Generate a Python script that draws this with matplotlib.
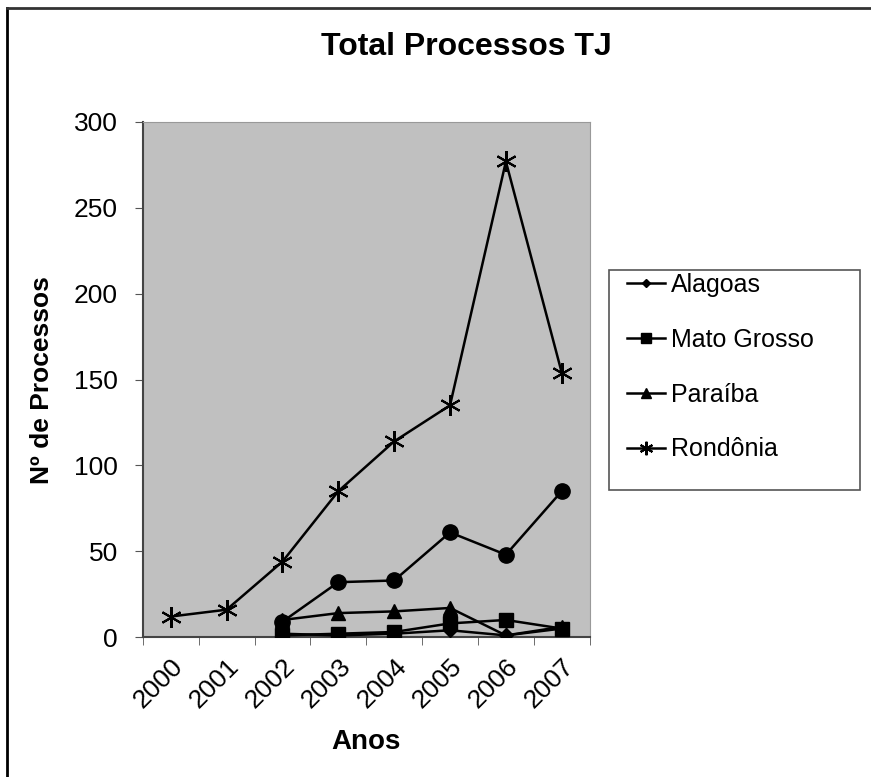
import matplotlib.pyplot as plt
import numpy as np

plt.rcParams['font.family'] = ['Liberation Sans', 'DejaVu Sans']

anos = ['2000', '2001', '2002', '2003', '2004', '2005', '2006', '2007']
alagoas = [None, None, 2, 1, 2, 4, 1, 5]
mato_grosso = [None, None, 1, 2, 3, 8, 10, 5]
paraiba = [None, None, 10, 14, 15, 17, 1, 6]
rondonia = [12, 16, 44, 85, 114, 135, 277, 154]
outro = [None, None, 9, 32, 33, 61, 48, 85]  # series without legend entry


def to_arr(vals):
    return np.array([np.nan if v is None else v for v in vals], dtype=float)


W, H = 871, 777
fig = plt.figure(figsize=(W / 100, H / 100), dpi=100)
ax = fig.add_axes([0.164, 0.180, 0.513, 0.663])
ax.set_facecolor('#c0c0c0')

x = np.arange(len(anos))
lw = 1.8
ax.plot(x, to_arr(outro), color='black', lw=lw, marker='o', ms=11, zorder=3)
ax.plot(x, to_arr(paraiba), color='black', lw=lw, marker='^', ms=10, label='Paraíba', zorder=4)
ax.plot(x, to_arr(alagoas), color='black', lw=lw, marker='D', ms=7, label='Alagoas', zorder=5)
ax.plot(x, to_arr(mato_grosso), color='black', lw=lw, marker='s', ms=10, label='Mato Grosso', zorder=6)
ax.plot(x, to_arr(rondonia), color='black', lw=lw, marker=(6, 2, 0), ms=15, mew=1.5,
        label='Rondônia', zorder=7)

ax.set_xlim(-0.5, len(anos) - 0.5)
ax.set_ylim(0, 300)
ax.set_yticks(np.arange(0, 301, 50))
ax.tick_params(axis='y', labelsize=19, length=6, direction='out', color='#555555', pad=12)
ax.set_xticks(x)
ax.set_xticklabels(anos, rotation=45, ha='right', rotation_mode='anchor', fontsize=19)
ax.tick_params(axis='x', which='major', length=0, pad=12)
ax.set_xticks(np.arange(-0.5, len(anos)), minor=True)
ax.tick_params(axis='x', which='minor', length=6, color='#555555')

for s in ['top', 'right']:
    ax.spines[s].set_color('#999999')
for s in ['left', 'bottom']:
    ax.spines[s].set_color('#444444')
    ax.spines[s].set_linewidth(1.5)

ax.set_xlabel('Anos', fontsize=20, fontweight='bold', labelpad=12)
ax.set_ylabel('Nº de Processos', fontsize=19, fontweight='bold', labelpad=14)
fig.text(0.535, 0.94, 'Total Processos TJ', ha='center', va='center',
         fontsize=23, fontweight='bold')

# legend box
fig.add_artist(plt.Rectangle((609 / W, 1 - 490 / H), 251 / W, 220 / H,
                             transform=fig.transFigure, fill=False,
                             edgecolor='#555555', lw=1.2))
handles, labels = ax.get_legend_handles_labels()
order = ['Alagoas', 'Mato Grosso', 'Paraíba', 'Rondônia']
hmap = dict(zip(labels, handles))
leg = fig.legend([hmap[k] for k in order], order, loc='upper left',
                 bbox_to_anchor=(622 / W, 1 - 268 / H), fontsize=18, frameon=False,
                 labelspacing=1.23, handlelength=1.5, handletextpad=0.25,
                 borderpad=0.2, borderaxespad=0, markerscale=0.65)

# outer frame of the chart area
fig.add_artist(plt.Line2D([0.008, 0.008], [0, 0.99], transform=fig.transFigure,
                          color='black', lw=2))
fig.add_artist(plt.Line2D([0.008, 1], [0.99, 0.99], transform=fig.transFigure,
                          color='#333333', lw=2))

fig.savefig('out.png', dpi=100)
